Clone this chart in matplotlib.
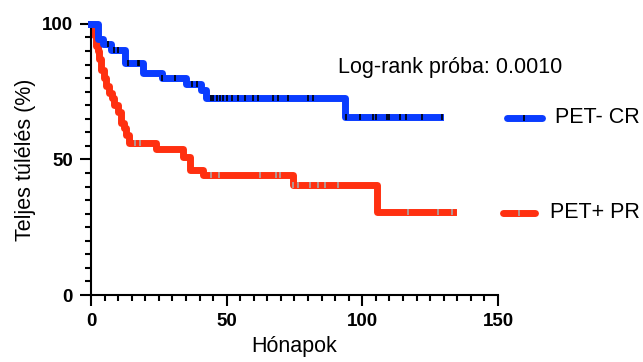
import matplotlib.pyplot as plt
from matplotlib.ticker import MultipleLocator

plt.rcParams['font.family'] = ['Liberation Sans', 'DejaVu Sans']

# Kaplan-Meier steps (month, survival % after the step)
cr_t = [0, 2.5, 4.3, 7.4, 12.5, 19, 26, 35, 40.5, 42.5, 93.6, 128.6]
cr_s = [100, 94.3, 92.6, 90.5, 85.5, 82, 80, 78, 75.6, 72.5, 65.5, 65.5]
cr_cens_t = [6.2, 8.6, 9.8, 13.5, 17.2, 17.8, 26.2, 31, 37.1, 39,
             44.1, 45.1, 46.3, 47.5, 48.8, 50, 51.9, 54.3, 56.8, 59.8, 61.6,
             67.2, 69, 72.7, 80.1, 81.9,
             94, 99.2, 104.1, 105, 109, 110, 114, 116.1, 121.9, 129.3]

pr_t = [0, 1.0, 1.8, 2.6, 3.0, 3.7, 4.8, 5.7, 6.6, 7.6, 8.5, 10, 11, 12,
        12.9, 14, 24, 33.9, 36.5, 41.3, 74.6, 105.3, 133.4]
pr_s = [100, 96, 92, 90, 87, 83, 80, 77, 74.5, 72.5, 70, 67.5, 63.5, 61.5,
        59, 56, 54, 51, 46, 44.3, 40.6, 30.7, 30.7]
pr_cens_t = [16.3, 18.1, 44.1, 47.3, 62.3, 68.1, 69.7, 74.6, 76.4, 80.7,
             83.8, 86.3, 91.2, 117, 128, 133]

blue = '#0a3cff'
red = '#ff3010'
gray = '#a8a8a8'


def surv_at(ts, ss, t):
    val = ss[0]
    for ti, si in zip(ts, ss):
        if ti <= t:
            val = si
    return val


fig = plt.figure(figsize=(6.43, 3.62), dpi=100)
ax = fig.add_axes([0.1415, 0.185, 0.633, 0.749])

ax.step(cr_t, cr_s, where='post', color=blue, lw=5, clip_on=False, zorder=3)
ax.step(pr_t, pr_s, where='post', color=red, lw=5, clip_on=False, zorder=2)
ax.plot(cr_cens_t, [surv_at(cr_t, cr_s, t) for t in cr_cens_t], ls='none',
        marker='|', ms=4, mew=1.2, color='black', zorder=4, clip_on=False)
ax.plot(pr_cens_t, [surv_at(pr_t, pr_s, t) for t in pr_cens_t], ls='none',
        marker='|', ms=4, mew=1.2, color=gray, zorder=4, clip_on=False)

# legend drawn next to the curve ends
ax.plot([153.2, 166.1], [65.3, 65.3], color=blue, lw=5, clip_on=False,
        solid_capstyle='round')
ax.plot([159.6], [65.3], marker='|', ms=4, mew=1.2, color='black', clip_on=False)
ax.text(171, 65.3, 'PET- CR', fontsize=15.5, va='center', ha='left')
ax.plot([151.8, 163.7], [30.4, 30.4], color=red, lw=5, clip_on=False,
        solid_capstyle='round')
ax.plot([157.7], [30.4], marker='|', ms=4, mew=1.2, color=gray, clip_on=False)
ax.text(169.2, 30.4, 'PET+ PR', fontsize=15.5, va='center', ha='left')

ax.text(91, 84, 'Log-rank próba: 0.0010', fontsize=15.5, va='center', ha='left')

ax.set_xlim(0, 150)
ax.set_ylim(0, 100)
ax.xaxis.set_major_locator(MultipleLocator(50))
ax.xaxis.set_minor_locator(MultipleLocator(5))
ax.yaxis.set_major_locator(MultipleLocator(50))
ax.yaxis.set_minor_locator(MultipleLocator(5))
ax.tick_params(which='major', length=8, width=1.5, labelsize=13.5, pad=5)
ax.tick_params(which='minor', length=4, width=1.5)
for lab in ax.get_xticklabels() + ax.get_yticklabels():
    lab.set_fontweight('bold')
for s in ['top', 'right']:
    ax.spines[s].set_visible(False)
for s in ['left', 'bottom']:
    ax.spines[s].set_linewidth(1.5)

ax.set_xlabel('Hónapok', fontsize=15.5, labelpad=4)
ax.set_ylabel('Teljes túlélés (%)', fontsize=15.5, labelpad=4)

fig.savefig('out.png', dpi=100)
